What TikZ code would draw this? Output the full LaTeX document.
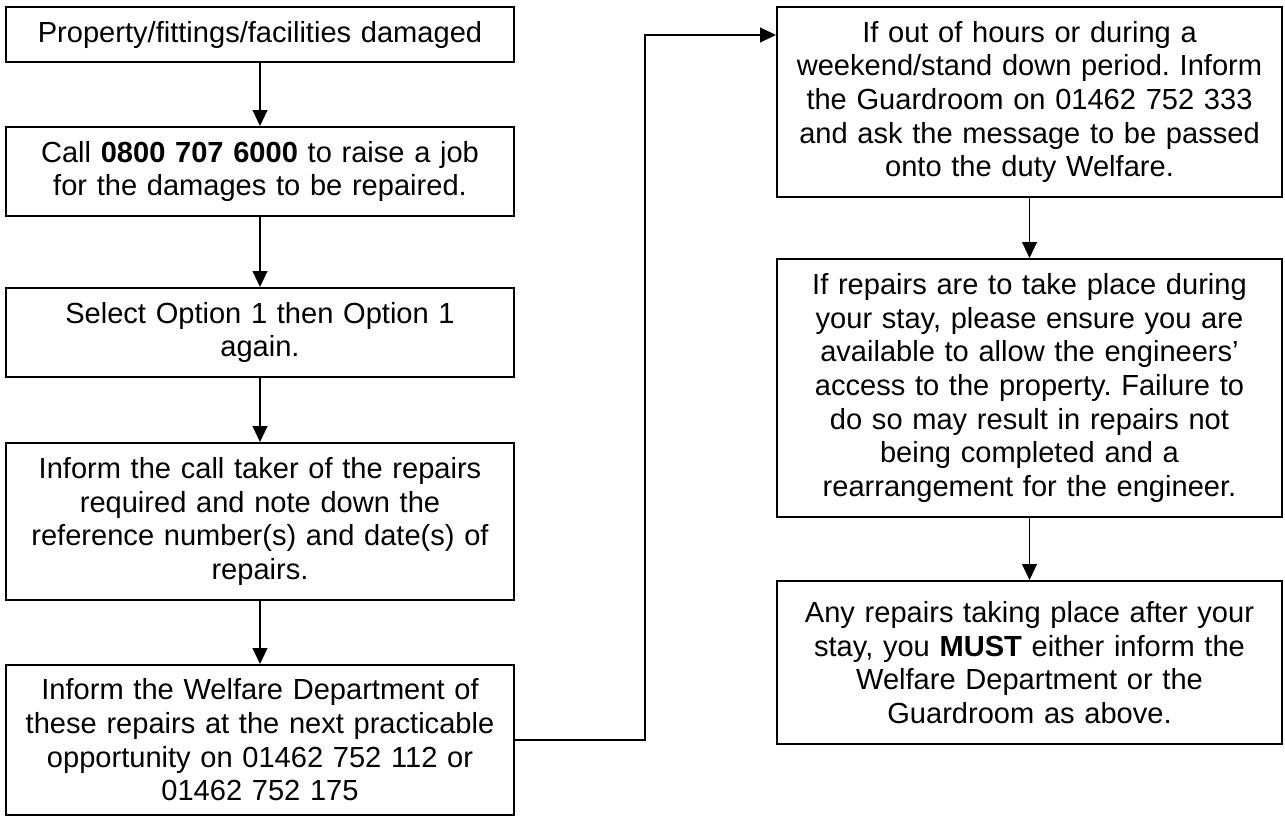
\documentclass[tikz,border=0pt]{standalone}
\usepackage{fontspec}
\setmainfont{Liberation Sans}
\usetikzlibrary{arrows.meta}
\tikzset{
  box/.style={draw=black, line width=1.4pt, inner xsep=0pt, inner ysep=0pt, align=center,
    font=\fontsize{21.8pt}{25.2pt}\selectfont},
  lbox/.style={box, text width=381pt},
  rbox/.style={box, text width=378.75pt},
  arr/.style={line width=1.4pt, -{Triangle[length=12pt, width=11pt]}}
}
\begin{document}
\frenchspacing
\begin{tikzpicture}[x=0.75pt, y=-0.75pt]
\useasboundingbox (0,0) rectangle (1285,816);
\node[lbox, minimum height=41.25pt] (b1) at (260,34.5) {Property/fittings/facilities damaged};
\node[lbox, minimum height=66.75pt] (b2) at (260,171.5) {Call \textbf{0800 707 6000} to raise a job\\for the damages to be repaired.};
\node[lbox, minimum height=66.75pt] (b3) at (260,332.5) {Select Option 1 then Option 1\\again.};
\node[lbox, minimum height=117.75pt] (b4) at (260,521.5) {Inform the call taker of the repairs\\required and note down the\\reference number(s) and date(s) of\\repairs.};
\node[lbox, minimum height=112.5pt] (b5) at (260,740) {Inform the Welfare Department of\\these repairs at the next practicable\\opportunity on 01462 752 112 or\\01462 752 175};
\node[rbox, minimum height=142.5pt] (r1) at (1029.5,102) {If out of hours or during a\\weekend/stand down period. Inform\\the Guardroom on 01462 752 333\\and ask the message to be passed\\onto the duty Welfare.};
\node[rbox, minimum height=193.5pt] (r2) at (1029.5,388) {If repairs are to take place during\\your stay, please ensure you are\\available to allow the engineers’\\access to the property. Failure to\\do so may result in repairs not\\being completed and a\\rearrangement for the engineer.};
\node[rbox, minimum height=122.25pt] (r3) at (1029.5,662.5) {Any repairs taking place after your\\stay, you \textbf{MUST} either inform the\\Welfare Department or the\\Guardroom as above.};
\coordinate (bend) at (645,35);
\draw[arr] (b1) -- (b2);
\draw[arr] (b2) -- (b3);
\draw[arr] (b3) -- (b4);
\draw[arr] (b4) -- (b5);
\draw[arr] (b5.east) -| (bend) -- (bend -| r1.west);
\draw[arr] (r1) -- (r2);
\draw[arr] (r2) -- (r3);
\end{tikzpicture}
\end{document}
